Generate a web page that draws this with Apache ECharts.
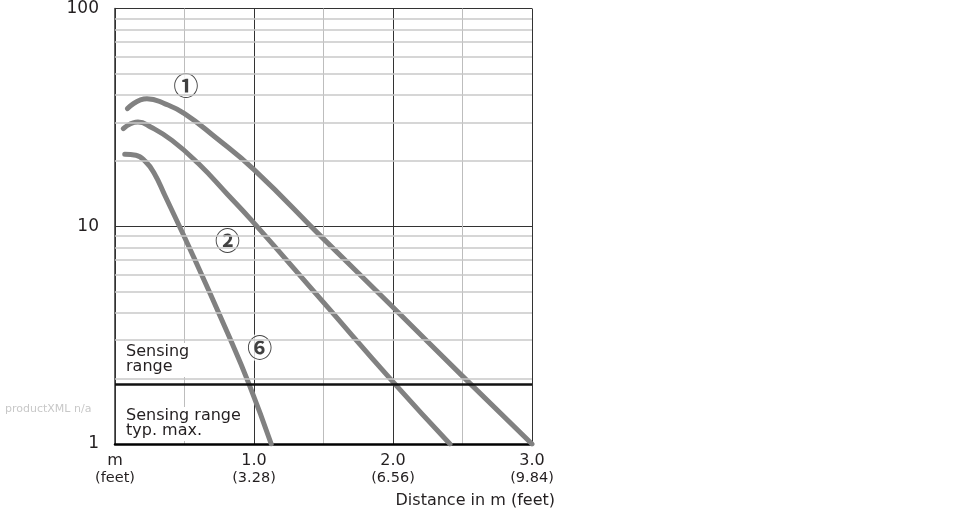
<!DOCTYPE html>
<html><head><meta charset="utf-8">
<script src="https://cdn.jsdelivr.net/npm/echarts@6/dist/echarts.min.js"></script>
<style>html,body{margin:0;padding:0;background:#fff}#c{width:970px;height:520px}</style>
</head><body><div id="c"></div>
<script>
// Curve ①
const dist1 = [0.09, 0.23, 0.36, 0.50, 0.72, 1.00, 1.50, 2.00, 2.50, 3.00];
const val1  = [34.7, 38.5, 36.5, 32.9, 25.7, 18.2, 8.75, 4.25, 2.05, 1.0];
// Curve ②
const dist2 = [0.06, 0.165, 0.26, 0.41, 0.60, 0.81, 0.98, 1.50, 2.00, 2.41];
const val2  = [28.1, 30.1, 28.5, 24.8, 19.4, 14.0, 10.7, 4.47, 1.93, 1.0];
// Curve ⑥
const dist6 = [0.07, 0.15, 0.22, 0.28, 0.36, 0.55, 0.81, 0.965, 1.124];
const val6  = [21.4, 21.2, 19.8, 17.6, 13.8, 7.6, 3.23, 1.88, 1.0];

const xTickValues = [0, 1, 2, 3];
const xTickMeters = ['m', '1.0', '2.0', '3.0'];
const xTickFeet   = ['(feet)', '(3.28)', '(6.56)', '(9.84)'];
const yMinorGrid  = [2, 3, 4, 5, 6, 7, 8, 9, 20, 30, 40, 50, 60, 70, 80, 90];
const sensingLimit = 1.88;
const tagNames = ['①', '②', '⑥'];
const tagX = [0.51, 0.809, 1.041];
const tagY = [44.3, 8.63, 2.77];

const FONT = 'DejaVu Sans';
const TXT = '#231f20';
const CURVE = '#818181';

function pairs(xs, ys) { return xs.map((x, i) => [x, ys[i]]); }

function curve(xs, ys) {
  return {
    type: 'line', data: pairs(xs, ys), showSymbol: false, symbol: 'none',
    smooth: 0.5, z: 3, silent: true,
    lineStyle: { color: CURVE, width: 5, cap: 'round', join: 'round' }
  };
}

const chart = echarts.init(document.getElementById('c'), null, { renderer: 'canvas' });
chart.setOption({
  animation: false,
  backgroundColor: '#fff',
  grid: { left: 115, right: 438, top: 8, bottom: 76 },
  xAxis: {
    type: 'value', min: 0, max: 3, interval: 0.5,
    axisLine: { show: true, onZero: false, lineStyle: { color: '#000', width: 2.5 } },
    axisTick: { show: false },
    splitLine: { show: true, lineStyle: { color: ['#333', '#bdbdbd'], width: 1 } },
    axisLabel: {
      show: true, showMinLabel: true, showMaxLabel: true, margin: 8,
      formatter: function (v) {
        const i = xTickValues.indexOf(Math.round(v * 100) / 100);
        if (i < 0) return '';
        return '{a|' + xTickMeters[i] + '}\n{b|' + xTickFeet[i] + '}';
      },
      rich: {
        a: { fontFamily: FONT, fontSize: 16, color: TXT, lineHeight: 17, align: 'center' },
        b: { fontFamily: FONT, fontSize: 14.5, color: TXT, lineHeight: 18, align: 'center' }
      }
    }
  },
  yAxis: {
    type: 'log', logBase: 10, min: 1, max: 100,
    axisLine: { show: true, lineStyle: { color: '#333', width: 1.5 } },
    axisTick: { show: false },
    splitLine: { show: true, lineStyle: { color: '#333', width: 1 } },
    axisLabel: { fontFamily: FONT, fontSize: 17, color: TXT, margin: 16 }
  },
  graphic: [
    { type: 'text', z: 1, style: { x: 124, y: 343, text: 'Sensing\nrange', fontFamily: FONT, fontSize: 16, lineHeight: 15.5, fill: TXT, backgroundColor: '#fff', padding: [1, 10, 2, 2], verticalAlign: 'top' } },
    { type: 'text', z: 1, style: { x: 124, y: 407, text: 'Sensing range\ntyp. max.', fontFamily: FONT, fontSize: 16, lineHeight: 15.5, fill: TXT, backgroundColor: '#fff', padding: [1, 2, 2, 2], verticalAlign: 'top' } },
    { type: 'text', style: { x: 555, y: 501, text: 'Distance in m (feet)', fontFamily: FONT, fontSize: 16, fill: TXT, align: 'right', verticalAlign: 'middle' } },
    { type: 'text', style: { x: 5, y: 409, text: 'productXML n/a', fontFamily: FONT, fontSize: 11, fill: '#c8c8c8', align: 'left', verticalAlign: 'middle' } }
  ],
  series: [
    {
      type: 'line', data: [], z: 0, silent: true,
      markLine: {
        silent: true, symbol: 'none', animation: false,
        label: { show: false },
        lineStyle: { color: '#c9c9c9', width: 1.5, type: 'solid' },
        data: yMinorGrid.map(v => ({ yAxis: v }))
      }
    },
    {
      type: 'line', data: [], z: 2, silent: true,
      markLine: {
        silent: true, symbol: 'none', animation: false,
        label: { show: false },
        lineStyle: { color: '#111', width: 2.5, type: 'solid' },
        data: [{ yAxis: sensingLimit }]
      }
    },
    curve(dist1, val1),
    curve(dist2, val2),
    curve(dist6, val6),
    {
      type: 'scatter', z: 4, silent: true, symbolSize: 0,
      data: tagNames.map((t, i) => ({ value: [tagX[i], tagY[i]], name: t })),
      label: {
        show: true, position: 'inside', formatter: p => p.name,
        fontFamily: 'Noto Sans CJK JP', fontWeight: 'bold', fontSize: 25, color: '#111',
        backgroundColor: '#fff', padding: [0, 1, 0, 1], lineHeight: 26
      }
    }
  ]
});
</script></body></html>
